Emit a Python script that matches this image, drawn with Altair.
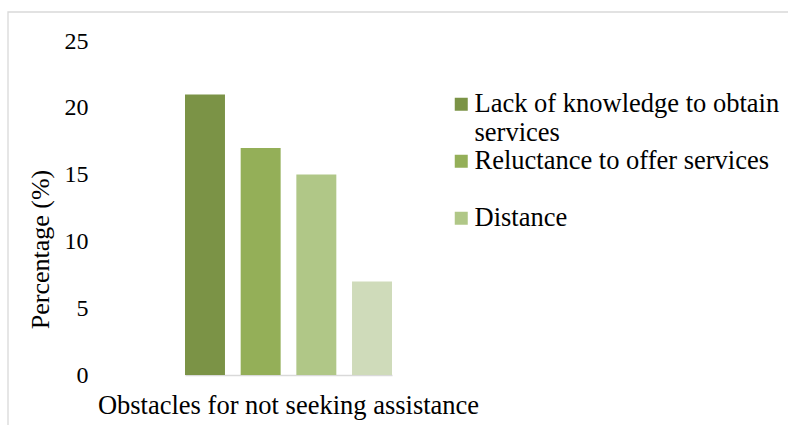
import altair as alt
import pandas as pd

# Obstacles for not seeking assistance, share of respondents (%)
obstacles = [
    "Lack of knowledge to obtain services",
    "Reluctance to offer services",
    "Distance",
    "Other",
]
percentages = [21, 17, 15, 7]
bar_colors = ["#7B9346", "#94AF58", "#B0C787", "#CFDBBA"]
y_ticks = [0, 5, 10, 15, 20, 25]

df = pd.DataFrame({"obstacle": obstacles, "pct": percentages})

FONT = "'Liberation Serif', 'Times New Roman', Times, serif"

# light frame around the whole chart area
frame = alt.Chart(alt.Data(values=[{}])).mark_rect(
    fillOpacity=0, stroke="#d9d9d9", strokeWidth=1.3
).encode(
    x=alt.value(-104), x2=alt.value(800),
    y=alt.value(-29), y2=alt.value(500),
)

bars = alt.Chart(df).mark_bar().encode(
    x=alt.X(
        "obstacle:N",
        sort=obstacles,
        scale=alt.Scale(paddingInner=0.282, paddingOuter=0, range=[73, 280]),
        axis=alt.Axis(
            labels=False, ticks=False,
            domainColor="#d9d9d9", domainWidth=1.5,
            title="Obstacles for not seeking assistance",
            titleFont=FONT, titleFontSize=26.5, titleFontWeight="normal",
            titleColor="#000000", titleBaseline="alphabetic",
            titleX=176, titleY=38,
        ),
    ),
    y=alt.Y(
        "pct:Q",
        scale=alt.Scale(domain=[0, 25], nice=False),
        axis=alt.Axis(
            values=y_ticks, domain=False, ticks=False, grid=False,
            labelFont=FONT, labelFontSize=24, labelColor="#000000",
            labelPadding=24,
            title="Percentage (%)",
            titleFont=FONT, titleFontSize=26, titleFontWeight="normal",
            titleColor="#000000", titleAngle=-90, titleAlign="center",
            titleBaseline="middle", titleX=-72, titleY=208,
        ),
    ),
    color=alt.Color(
        "obstacle:N",
        sort=obstacles,
        scale=alt.Scale(domain=obstacles, range=bar_colors),
        legend=alt.Legend(
            values=obstacles[:3],
            title=None,
            orient="none", legendX=336, legendY=50,
            symbolType="square", symbolSize=169, symbolStrokeWidth=0,
            symbolOpacity=1,
            labelFont=FONT, labelFontSize=26.5, labelColor="#000000",
            labelOffset=0, labelLimit=400,
            gridAlign="all", rowPadding=1,
            labelExpr="datum.label == 'Lack of knowledge to obtain services' ? ['Lack of knowledge to obtain', 'services'] : datum.label",
        ),
    ),
)

chart = (
    alt.layer(frame, bars)
    .properties(
        width=350, height=334,
        autosize=alt.AutoSizeParams(type="none"),
        padding={"left": 112, "top": 41, "right": 326, "bottom": 50},
        background="white",
    )
    .configure(font=FONT)
    .configure_view(strokeWidth=0, stroke="transparent")
)

chart.save("out.html", embed_options={"renderer": "svg", "actions": False})
